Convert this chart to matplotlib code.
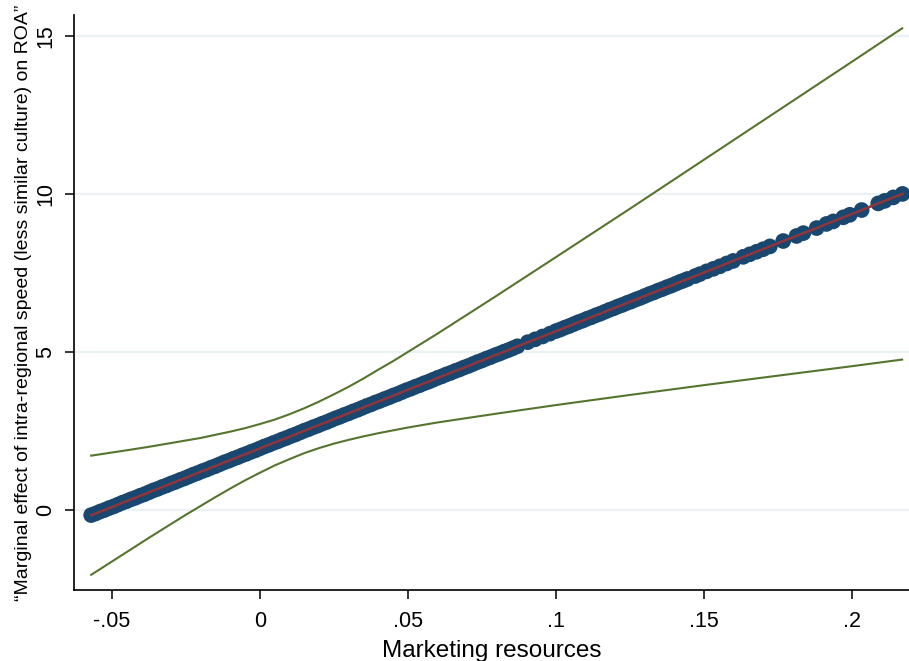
import matplotlib
matplotlib.use("Agg")
import matplotlib.pyplot as plt

# Marketing resources (x) and marginal effect on ROA (y) at the observed values
mkt = [-0.057, -0.0555, -0.054, -0.0525, -0.051, -0.0495, -0.048, -0.0465, -0.045, -0.0435,
       -0.042, -0.0405, -0.039, -0.0375, -0.036, -0.0345, -0.033, -0.0315, -0.030, -0.0285,
       -0.027, -0.0255, -0.024, -0.0225, -0.021, -0.0195, -0.018, -0.0165, -0.015, -0.0135,
       -0.012, -0.0105, -0.009, -0.0075, -0.006, -0.0045, -0.003, -0.0015, 0.000, 0.0015,
       0.003, 0.0045, 0.006, 0.0075, 0.009, 0.0105, 0.012, 0.0135, 0.015, 0.0165,
       0.018, 0.0195, 0.021, 0.0225, 0.024, 0.0255, 0.027, 0.0285, 0.030, 0.0315,
       0.033, 0.0345, 0.036, 0.0375, 0.039, 0.0405, 0.042, 0.0435, 0.045, 0.0465,
       0.048, 0.0495, 0.051, 0.0525, 0.054, 0.0555, 0.057, 0.0585, 0.060, 0.0615,
       0.063, 0.0645, 0.066, 0.0675, 0.069, 0.0705, 0.072, 0.0735, 0.075, 0.0765,
       0.078, 0.0795, 0.081, 0.0825, 0.084, 0.0855, 0.087,
       0.0905, 0.0930, 0.0955, 0.0980,
       0.100, 0.1015, 0.103, 0.1045, 0.106, 0.1075, 0.109, 0.1105, 0.112, 0.1135,
       0.115, 0.1165, 0.118, 0.1195, 0.121, 0.1225, 0.124, 0.1255, 0.127, 0.1285,
       0.130, 0.1315, 0.133, 0.1345, 0.136, 0.1375, 0.139, 0.1405, 0.142, 0.1432, 0.1445,
       0.1470, 0.1486, 0.1509, 0.1532, 0.1554, 0.1577, 0.1599, 0.1633, 0.1655, 0.1678,
       0.1700, 0.1723, 0.1768, 0.1813, 0.1836, 0.1881, 0.1914, 0.1937, 0.1971, 0.1993,
       0.2033, 0.2089, 0.2111, 0.2140, 0.2171]
effect = [-0.16, -0.11, -0.05, 0.00, 0.06, 0.11, 0.17, 0.23, 0.28, 0.34,
          0.39, 0.45, 0.50, 0.56, 0.62, 0.67, 0.73, 0.78, 0.84, 0.89,
          0.95, 1.00, 1.06, 1.12, 1.17, 1.23, 1.28, 1.34, 1.39, 1.45,
          1.51, 1.56, 1.62, 1.67, 1.73, 1.78, 1.84, 1.89, 1.95, 2.01,
          2.06, 2.12, 2.17, 2.23, 2.28, 2.34, 2.39, 2.45, 2.51, 2.56,
          2.62, 2.67, 2.73, 2.78, 2.84, 2.90, 2.95, 3.01, 3.06, 3.12,
          3.17, 3.23, 3.29, 3.34, 3.40, 3.45, 3.51, 3.56, 3.62, 3.67,
          3.73, 3.79, 3.84, 3.90, 3.95, 4.01, 4.06, 4.12, 4.18, 4.23,
          4.29, 4.34, 4.40, 4.45, 4.51, 4.56, 4.62, 4.68, 4.73, 4.79,
          4.84, 4.90, 4.95, 5.01, 5.06, 5.12, 5.18,
          5.31, 5.40, 5.49, 5.58,
          5.66, 5.71, 5.77, 5.82, 5.88, 5.94, 5.99, 6.05, 6.10, 6.16,
          6.21, 6.27, 6.33, 6.38, 6.44, 6.49, 6.55, 6.60, 6.66, 6.71,
          6.77, 6.83, 6.88, 6.94, 6.99, 7.05, 7.10, 7.16, 7.22, 7.26, 7.31,
          7.40, 7.46, 7.55, 7.63, 7.71, 7.80, 7.88, 8.01, 8.09, 8.17,
          8.25, 8.34, 8.51, 8.67, 8.76, 8.92, 9.05, 9.13, 9.26, 9.34,
          9.49, 9.70, 9.78, 9.89, 10.00]

# Confidence bounds of the marginal effect
ci_x = [-0.057, -0.045, -0.0375, -0.030, -0.025, -0.020, -0.015, -0.010, -0.005, 0.000,
        0.005, 0.010, 0.015, 0.020, 0.025, 0.030, 0.035, 0.040, 0.045, 0.050,
        0.060, 0.070, 0.080, 0.100, 0.125, 0.150, 0.175, 0.200, 0.217]
ci_upper = [1.72, 1.89, 2.00, 2.12, 2.20, 2.28, 2.38, 2.48, 2.59, 2.72,
            2.86, 3.03, 3.22, 3.43, 3.66, 3.90, 4.16, 4.44, 4.71, 5.00,
            5.58, 6.18, 6.78, 8.00, 9.53, 11.08, 12.63, 14.18, 15.24]
ci_lower = [-2.05, -1.33, -0.88, -0.44, -0.15, 0.13, 0.41, 0.68, 0.94, 1.18,
            1.41, 1.61, 1.80, 1.96, 2.10, 2.22, 2.33, 2.43, 2.52, 2.61,
            2.77, 2.91, 3.05, 3.32, 3.64, 3.95, 4.25, 4.55, 4.76]

x_ticks = [-0.05, 0, 0.05, 0.1, 0.15, 0.2]
x_ticklabels = ["-.05", "0", ".05", ".1", ".15", ".2"]
y_ticks = [0, 5, 10, 15]
y_ticklabels = ["0", "5", "10", "15"]

navy = "#1A476F"
maroon = "#90353B"
forest = "#55752F"
grid_col = "#EAF2F3"

plt.rcParams["font.family"] = ["Liberation Sans", "DejaVu Sans"]

fig = plt.figure(figsize=(9.09, 6.61), dpi=100)
ax = fig.add_axes([74 / 909, 1 - 590 / 661, 1 - 74 / 909, (590 - 15) / 661])

ax.scatter(mkt, effect, s=11.3 ** 2, color=navy, edgecolors="none", zorder=3)
ax.plot(mkt, effect, color=maroon, lw=1.8, zorder=4)
ax.plot(ci_x, ci_upper, color=forest, lw=1.5, zorder=2)
ax.plot(ci_x, ci_lower, color=forest, lw=1.5, zorder=2)

ax.set_xlim(-0.0628, 0.2193)
ax.set_ylim(-2.53, 15.66)

ax.set_xticks(x_ticks)
ax.set_xticklabels(x_ticklabels)
ax.set_yticks(y_ticks)
ax.set_yticklabels(y_ticklabels, rotation=90, va="center")

for yv in y_ticks:
    ax.axhline(yv, color=grid_col, lw=1.6, zorder=0)

for side in ("top", "right"):
    ax.spines[side].set_visible(False)
for side in ("left", "bottom"):
    ax.spines[side].set_linewidth(1.2)

ax.tick_params(axis="both", direction="out", length=6.8, width=1.1, labelsize=15.5)
ax.tick_params(axis="x", pad=8)
ax.tick_params(axis="y", pad=6)

ax.set_xlabel("Marketing resources", fontsize=17.5, labelpad=6)
ax.set_ylabel("\u201cMarginal effect of intra-regional speed (less similar culture) on ROA\u201d",
              fontsize=14, labelpad=2)

fig.savefig("out.png", dpi=100, facecolor="white")
